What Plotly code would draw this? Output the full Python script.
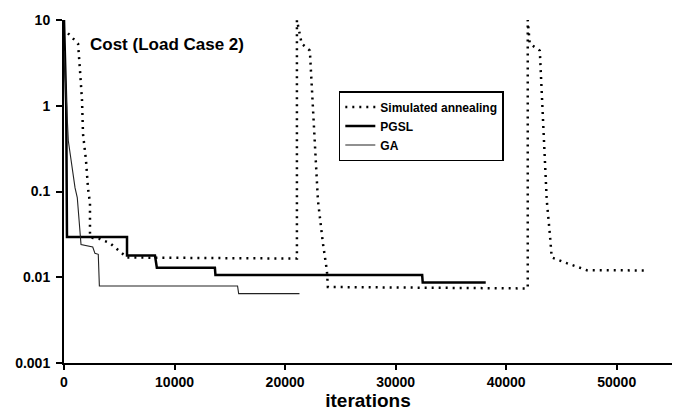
import plotly.graph_objects as go

# Simulated annealing (dotted)
sa_x = [360, 1270, 1450, 1630, 1720, 1990, 2170, 2350, 2350, 2400, 3250, 4160, 5700, 21070,
        21070, 21300, 21500, 22240, 22970, 23420, 23780, 23870, 41950,
        41950, 42130, 43040, 43670, 43940, 44120, 45480, 47290, 52530]
sa_y = [7.0, 5.3, 2.55, 1.15, 0.47, 0.23, 0.11, 0.073, 0.033, 0.029, 0.028, 0.025, 0.017, 0.0165,
        10, 7.0, 5.3, 4.4, 0.079, 0.025, 0.012, 0.0077, 0.0074,
        10, 5.3, 4.4, 0.079, 0.033, 0.017, 0.0146, 0.0121, 0.012]

# PGSL (thick solid)
pgsl_x = [0, 100, 200, 270, 5700, 5700, 8230, 8400, 13650, 13700, 32400, 32450, 38150]
pgsl_y = [10, 3, 1, 0.0295, 0.0295, 0.0179, 0.0179, 0.0129, 0.0129, 0.0106, 0.0106, 0.00867, 0.00867]

# GA (thin solid)
ga_x = [0, 100, 240, 390, 630, 1000, 1200, 1380, 1540, 2600, 2800, 3100, 3200, 15700, 15800, 21300]
ga_y = [4.4, 2.0, 1.0, 0.39, 0.23, 0.11, 0.085, 0.046, 0.024, 0.0225, 0.019, 0.0185, 0.0079, 0.0079, 0.00645, 0.00645]

x_ticks = [0, 10000, 20000, 30000, 40000, 50000]
y_ticks = [0.001, 0.01, 0.1, 1, 10]
y_tick_text = ["0.001", "0.01", "0.1", "1", "10"]

FONT = "Liberation Sans, Arial, sans-serif"

fig = go.Figure()
fig.add_trace(go.Scatter(x=sa_x, y=sa_y, mode="lines", name="Simulated annealing",
                         line=dict(color="black", width=2.5, dash="2px,5px")))
fig.add_trace(go.Scatter(x=pgsl_x, y=pgsl_y, mode="lines", name="PGSL",
                         line=dict(color="black", width=2.5)))
fig.add_trace(go.Scatter(x=ga_x, y=ga_y, mode="lines", name="GA",
                         line=dict(color="#222222", width=1.1)))

fig.update_layout(
    width=678, height=411,
    margin=dict(l=64, r=6, t=20, b=48),
    paper_bgcolor="white", plot_bgcolor="white",
    font=dict(family=FONT, color="black"),
    showlegend=True,
    legend=dict(x=0.452, y=0.793, xanchor="left", yanchor="top",
                bordercolor="black", borderwidth=1.5, bgcolor="white",
                font=dict(size=12, weight="bold", family=FONT),
                tracegroupgap=0, itemwidth=30),
    annotations=[dict(text="Cost (Load Case 2)", x=0.039, y=0.962, xref="paper", yref="paper",
                      xanchor="left", yanchor="top", showarrow=False,
                      font=dict(size=17, weight="bold", family=FONT))],
)
fig.update_xaxes(range=[0, 55000], tickvals=x_ticks, ticktext=[str(v) for v in x_ticks],
                 showgrid=False, zeroline=False, showline=True, linecolor="black", linewidth=2,
                 ticks="outside", ticklen=5, tickwidth=1.5, tickcolor="black",
                 tickfont=dict(size=14, weight="bold", family=FONT),
                 title=dict(text="iterations", font=dict(size=19, weight="bold", family=FONT), standoff=3))
fig.update_yaxes(type="log", range=[-3, 1], tickvals=y_ticks, ticktext=y_tick_text,
                 showgrid=False, zeroline=False, showline=True, linecolor="black", linewidth=2,
                 ticks="outside", ticklen=6, tickwidth=1.5, tickcolor="black",
                 ticklabelstandoff=3,
                 tickfont=dict(size=14, weight="bold", family=FONT))

fig.write_html("out.html")
